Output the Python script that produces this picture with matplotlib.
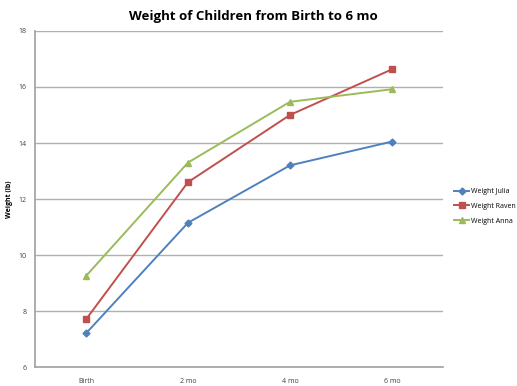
import matplotlib.pyplot as plt

months = ['Birth', '2 mo', '4 mo', '6 mo']
julia = [7.2, 11.15, 13.2, 14.05]
raven = [7.7, 12.6, 15.0, 16.63]
anna = [9.25, 13.3, 15.47, 15.92]

plt.rcParams['font.family'] = ['Open Sans', 'DejaVu Sans']

fig = plt.figure(figsize=(5.17, 3.86), dpi=100)
ax = fig.add_axes([0.0677, 0.0492, 0.789, 0.8705])

x = range(len(months))
ax.plot(x, julia, color='#4F81BD', marker='D', markersize=3.5, linewidth=1.4, label='Weight Julia')
ax.plot(x, raven, color='#C0504D', marker='s', markersize=4, linewidth=1.4, label='Weight Raven')
ax.plot(x, anna, color='#9BBB59', marker='^', markersize=4.5, linewidth=1.4, label='Weight Anna')

ax.set_xlim(-0.5, 3.5)
ax.set_ylim(6, 18)
ax.set_yticks(range(6, 19, 2))
ax.set_xticks(list(x))
ax.set_xticklabels(months)
ax.yaxis.grid(True, color='#B0B0B0', linewidth=1)
ax.set_axisbelow(True)
for s in ['top', 'right']:
    ax.spines[s].set_visible(False)
for s in ['left', 'bottom']:
    ax.spines[s].set_color('#A0A0A0')
    ax.spines[s].set_linewidth(1.2)
ax.tick_params(axis='both', labelsize=5, length=0, pad=6, colors='#404040')
ax.tick_params(axis='x', pad=8)

ax.set_ylabel('Weight (lb)', fontsize=5, fontweight='bold')
ax.yaxis.set_label_coords(-0.055, 0.5)
fig.suptitle('Weight of Children from Birth to 6 mo', fontsize=9.5, fontweight='bold', x=0.49, y=0.975)

ax.legend(loc='center left', bbox_to_anchor=(1.015, 0.478), frameon=False, fontsize=5,
          handlelength=2.2, handletextpad=0.3, labelspacing=1.1, borderaxespad=0.3)

plt.savefig('out.png', dpi=100)
